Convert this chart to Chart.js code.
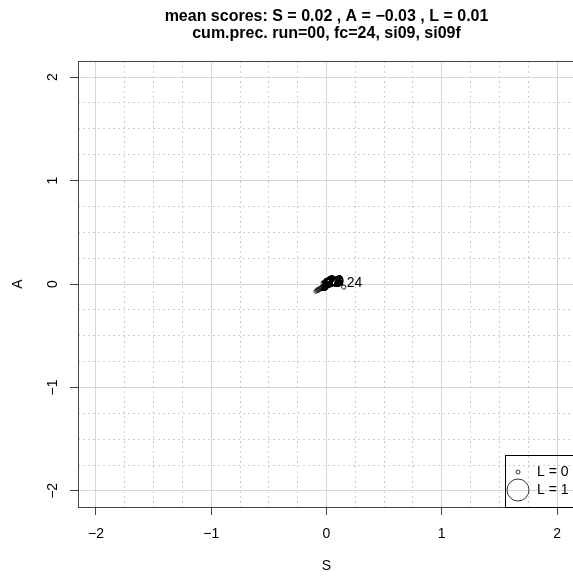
<!DOCTYPE html>
<html>
<head>
<meta charset="utf-8">
<script src="https://cdn.jsdelivr.net/npm/chart.js@4"></script>
<style>
  body { margin: 0; overflow: hidden; background: #fff; }
  #wrap { width: 580px; height: 576px; }
</style>
</head>
<body>
<div id="wrap"><canvas id="scoreChart"></canvas></div>
<script>
// forecast steps (labels) and their cumulative scores
const fcLabels = ['1','2','3','4','5','6','7','8','9','10','11','12','13','14','15','16','17','18','19','20','21','22','23','24'];
const scoreS = [-0.09,-0.08,-0.07,-0.07,-0.06,-0.05,-0.05,-0.04,-0.04,-0.03,-0.03,-0.03,-0.03,-0.03,-0.02,-0.02,-0.02,-0.02,-0.01,-0.01,-0.01,-0.03,-0.02,0.15];
const scoreA = [-0.07,-0.06,-0.06,-0.05,-0.05,-0.04,-0.04,-0.04,-0.03,-0.03,-0.03,-0.02,-0.02,-0.02,-0.02,-0.02,-0.02,-0.01,-0.02,-0.02,-0.01,-0.02,-0.02,-0.03];
const scoreL = [0.01,0.01,0.01,0.01,0.01,0.01,0.01,0.01,0.01,0.01,0.01,0.01,0.01,0.01,0.01,0.01,0.01,0.01,0.01,0.01,0.01,0.01,0.01,0.01];
const tickValues = [-2, -1, 0, 1, 2];
const legendLevels = [0, 1];
const meanS = 0.02, meanA = -0.03, meanL = 0.01;
const axisLimit = 2.156;

const titleLines = [
    'mean scores: S = ' + meanS.toFixed(2) + ' , A = ' + meanA.toFixed(2).replace('-', '\u2212') + ' , L = ' + meanL.toFixed(2),
    'cum.prec. run=00, fc=24, si09, si09f'
];

const minorValues = [];
for (let v = -2; v <= 2; v += 0.25) {
    if (v % 1 !== 0) minorValues.push(v);
}

const radiusFor = l => 2 + 9 * l;
const fmt = v => String(v).replace('-', '\u2212');
const FONT = '"Liberation Sans", Arial, sans-serif';

const extras = {
    id: 'extras',
    afterDraw(chart) {
        const ctx = chart.ctx;
        const area = chart.chartArea;
        const ys = chart.scales.y;
        ctx.save();

        // plot box
        ctx.strokeStyle = '#444';
        ctx.lineWidth = 1;
        ctx.strokeRect(Math.round(area.left) + 0.5, Math.round(area.top) + 0.5,
            Math.round(area.right - area.left), Math.round(area.bottom - area.top));

        // y tick labels, rotated like R
        ctx.fillStyle = '#000';
        ctx.font = '14px ' + FONT;
        ctx.textAlign = 'center';
        ctx.textBaseline = 'middle';
        tickValues.forEach(v => {
            ctx.save();
            ctx.translate(53, ys.getPixelForValue(v));
            ctx.rotate(-Math.PI / 2);
            ctx.fillText(fmt(v), 0, 0);
            ctx.restore();
        });

        // point labels
        const meta = chart.getDatasetMeta(0);
        ctx.font = '14px ' + FONT;
        ctx.textAlign = 'left';
        meta.data.forEach((pt, i) => {
            ctx.fillText(fcLabels[i], pt.x + 3, pt.y - 4);
        });

        // title
        const cx = (area.left + area.right) / 2;
        ctx.font = 'bold 16px ' + FONT;
        ctx.textAlign = 'center';
        ctx.fillText(titleLines[0], cx, 17);
        ctx.fillText(titleLines[1], cx, 34);

        // legend for L
        ctx.strokeStyle = '#000';
        ctx.strokeRect(505.5, 455.5, 80, Math.round(area.bottom) - 455);
        ctx.font = '14px ' + FONT;
        ctx.textAlign = 'left';
        ctx.strokeStyle = '#333';
        legendLevels.forEach((l, i) => {
            const y = 472 + i * 18;
            ctx.beginPath();
            ctx.arc(518, y, radiusFor(l), 0, Math.PI * 2);
            ctx.stroke();
            ctx.fillText('L = ' + l, 537, y);
        });
        ctx.restore();
    }
};

const ctx = document.getElementById('scoreChart').getContext('2d');
new Chart(ctx, {
    type: 'scatter',
    data: {
        datasets: [{
            label: 'fc',
            data: scoreS.map((s, i) => ({ x: s, y: scoreA[i] })),
            pointRadius: scoreL.map(radiusFor),
            pointBorderColor: '#222',
            pointBackgroundColor: 'rgba(0,0,0,0)',
            pointBorderWidth: 1,
            showLine: false
        }]
    },
    options: {
        responsive: true,
        maintainAspectRatio: false,
        animation: false,
        layout: { padding: { top: 61, right: 4, left: 0, bottom: 0 } },
        plugins: {
            legend: { display: false },
            tooltip: { enabled: false }
        },
        scales: {
            x: {
                type: 'linear',
                min: -axisLimit,
                max: axisLimit,
                afterBuildTicks: s => { s.ticks = tickValues.map(v => ({ value: v })); },
                afterFit: s => { s.height = 69; },
                ticks: {
                    color: '#000',
                    font: { family: FONT, size: 14 },
                    padding: 11,
                    maxRotation: 0,
                    callback: v => fmt(v)
                },
                grid: { color: '#d6d6d6', tickColor: '#444', tickLength: 8 },
                border: { display: false },
                title: { display: true, text: 'S', color: '#000', font: { family: FONT, size: 14 }, padding: { top: 0, bottom: 1 } }
            },
            y: {
                type: 'linear',
                min: -axisLimit,
                max: axisLimit,
                afterBuildTicks: s => { s.ticks = tickValues.map(v => ({ value: v })); },
                afterFit: s => { s.width = 78; },
                ticks: { display: false },
                grid: { color: '#d6d6d6', tickColor: '#444', tickLength: 8 },
                border: { display: false },
                title: { display: true, text: 'A', color: '#000', font: { family: FONT, size: 14 }, padding: { top: 10, bottom: 0 } }
            },
            x2: {
                type: 'linear',
                position: 'bottom',
                min: -axisLimit,
                max: axisLimit,
                afterBuildTicks: s => { s.ticks = minorValues.map(v => ({ value: v })); },
                afterFit: s => { s.height = 0; },
                ticks: { display: false },
                grid: { color: '#cfcfcf', drawTicks: false },
                border: { display: false, dash: [2, 3] }
            },
            y2: {
                type: 'linear',
                position: 'left',
                min: -axisLimit,
                max: axisLimit,
                afterBuildTicks: s => { s.ticks = minorValues.map(v => ({ value: v })); },
                afterFit: s => { s.width = 0; },
                ticks: { display: false },
                grid: { color: '#cfcfcf', drawTicks: false },
                border: { display: false, dash: [2, 3] }
            }
        }
    },
    plugins: [extras]
});
</script>
</body>
</html>
